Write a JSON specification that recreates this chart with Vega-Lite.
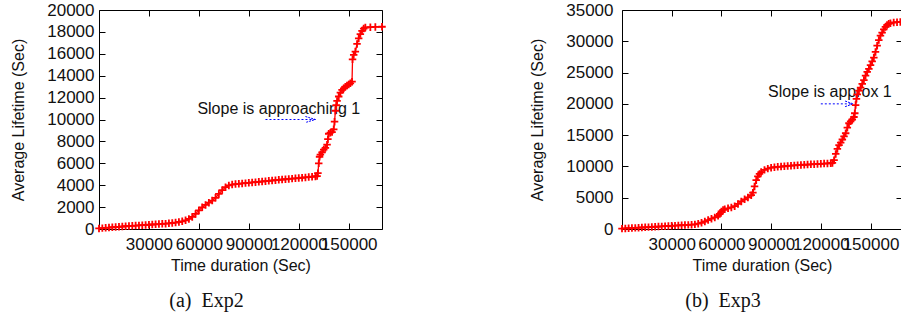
{
"$schema":"https://vega.github.io/schema/vega-lite/v6.json",
"padding":{"left":10,"top":0,"right":0,"bottom":0},
"background":"white",
"spacing":139,
"config":{"font":"Liberation Sans","view":{"stroke":"#000","strokeWidth":1},
"axis":{"labelFont":"Liberation Sans","titleFont":"Liberation Sans","labelFontSize":17,"titleFontSize":16,"titleFontWeight":"normal","labelColor":"#111","titleColor":"#111","domain":false,"grid":false,"tickColor":"#000","tickSize":-6,"labelOverlap":false,"labelFlush":false}},
"datasets":{
"exp2":[{"t":0,"v":50},{"t":2000,"v":80},{"t":4000,"v":110},{"t":6000,"v":130},{"t":8000,"v":160},{"t":10000,"v":180},{"t":12000,"v":200},{"t":14000,"v":230},{"t":16000,"v":250},{"t":18000,"v":270},{"t":20000,"v":290},{"t":22000,"v":310},{"t":24000,"v":330},{"t":26000,"v":350},{"t":28000,"v":370},{"t":30000,"v":390},{"t":32000,"v":410},{"t":34000,"v":430},{"t":36000,"v":450},{"t":38000,"v":470},{"t":40000,"v":490},{"t":42000,"v":520},{"t":44000,"v":550},{"t":46000,"v":590},{"t":48000,"v":640},{"t":50000,"v":700},{"t":52000,"v":790},{"t":54000,"v":920},{"t":56000,"v":1100},{"t":58000,"v":1380},{"t":60000,"v":1700},{"t":62000,"v":1980},{"t":64000,"v":2200},{"t":66000,"v":2400},{"t":68000,"v":2600},{"t":70000,"v":2850},{"t":72000,"v":3200},{"t":74000,"v":3550},{"t":76000,"v":3820},{"t":78000,"v":3980},{"t":80000,"v":4060},{"t":82000,"v":4100},{"t":84000,"v":4130},{"t":86000,"v":4160},{"t":88000,"v":4190},{"t":90000,"v":4220},{"t":92000,"v":4250},{"t":94000,"v":4280},{"t":96000,"v":4310},{"t":98000,"v":4340},{"t":100000,"v":4370},{"t":102000,"v":4400},{"t":104000,"v":4430},{"t":106000,"v":4460},{"t":108000,"v":4490},{"t":110000,"v":4520},{"t":112000,"v":4545},{"t":114000,"v":4570},{"t":116000,"v":4600},{"t":118000,"v":4625},{"t":120000,"v":4650},{"t":122000,"v":4680},{"t":124000,"v":4710},{"t":126000,"v":4740},{"t":128000,"v":4770},{"t":130000,"v":4800},{"t":131000,"v":4830},{"t":131500,"v":5100},{"t":132000,"v":6000},{"t":132500,"v":6600},{"t":133000,"v":6800},{"t":134000,"v":7000},{"t":135000,"v":7250},{"t":136000,"v":7400},{"t":137000,"v":7700},{"t":137500,"v":8200},{"t":138000,"v":8700},{"t":139000,"v":8800},{"t":140000,"v":8850},{"t":141000,"v":9100},{"t":141500,"v":9800},{"t":142000,"v":10800},{"t":142500,"v":11300},{"t":143000,"v":11700},{"t":144000,"v":12100},{"t":145000,"v":12450},{"t":146000,"v":12700},{"t":147000,"v":12850},{"t":148000,"v":13000},{"t":149000,"v":13100},{"t":150000,"v":13200},{"t":151000,"v":13300},{"t":152000,"v":13450},{"t":152300,"v":15500},{"t":153000,"v":15900},{"t":154000,"v":16200},{"t":155000,"v":16900},{"t":156000,"v":17400},{"t":157000,"v":17800},{"t":158000,"v":18100},{"t":159000,"v":18300},{"t":160000,"v":18400},{"t":163000,"v":18430},{"t":166000,"v":18450},{"t":170000,"v":18470}],
"exp3":[{"t":0,"v":60},{"t":2000,"v":90},{"t":4000,"v":120},{"t":6000,"v":150},{"t":8000,"v":180},{"t":10000,"v":210},{"t":12000,"v":240},{"t":14000,"v":270},{"t":16000,"v":300},{"t":18000,"v":330},{"t":20000,"v":360},{"t":22000,"v":390},{"t":24000,"v":420},{"t":26000,"v":450},{"t":28000,"v":480},{"t":30000,"v":510},{"t":32000,"v":540},{"t":34000,"v":570},{"t":36000,"v":600},{"t":38000,"v":630},{"t":40000,"v":660},{"t":42000,"v":690},{"t":44000,"v":740},{"t":46000,"v":850},{"t":48000,"v":1000},{"t":50000,"v":1200},{"t":52000,"v":1420},{"t":54000,"v":1650},{"t":56000,"v":1850},{"t":58000,"v":2100},{"t":59000,"v":2400},{"t":60000,"v":2800},{"t":61000,"v":3050},{"t":62000,"v":3150},{"t":64000,"v":3300},{"t":66000,"v":3450},{"t":68000,"v":3650},{"t":70000,"v":4000},{"t":72000,"v":4400},{"t":74000,"v":4750},{"t":76000,"v":5050},{"t":78000,"v":5400},{"t":79000,"v":5800},{"t":80000,"v":6800},{"t":81000,"v":7800},{"t":82000,"v":8400},{"t":83000,"v":8800},{"t":84000,"v":9100},{"t":86000,"v":9450},{"t":88000,"v":9650},{"t":90000,"v":9800},{"t":92000,"v":9870},{"t":94000,"v":9930},{"t":96000,"v":9980},{"t":98000,"v":10030},{"t":100000,"v":10080},{"t":102000,"v":10120},{"t":104000,"v":10160},{"t":106000,"v":10200},{"t":108000,"v":10240},{"t":110000,"v":10270},{"t":112000,"v":10300},{"t":114000,"v":10330},{"t":116000,"v":10360},{"t":118000,"v":10390},{"t":120000,"v":10420},{"t":122000,"v":10450},{"t":124000,"v":10480},{"t":126000,"v":10510},{"t":127000,"v":10560},{"t":128000,"v":11000},{"t":129000,"v":12000},{"t":130000,"v":12800},{"t":131000,"v":13400},{"t":132000,"v":13800},{"t":133000,"v":14300},{"t":134000,"v":14800},{"t":135000,"v":15300},{"t":136000,"v":16200},{"t":137000,"v":16900},{"t":138000,"v":17200},{"t":139000,"v":17500},{"t":140000,"v":17900},{"t":140500,"v":18500},{"t":141000,"v":19800},{"t":141500,"v":20800},{"t":142000,"v":21500},{"t":143000,"v":22100},{"t":144000,"v":22600},{"t":145000,"v":23200},{"t":146000,"v":23800},{"t":147000,"v":24500},{"t":148000,"v":25100},{"t":149000,"v":25600},{"t":150000,"v":26200},{"t":151000,"v":26800},{"t":152000,"v":27400},{"t":153000,"v":28300},{"t":154000,"v":29300},{"t":155000,"v":30200},{"t":156000,"v":30900},{"t":157000,"v":31400},{"t":158000,"v":31900},{"t":159000,"v":32300},{"t":160000,"v":32600},{"t":161000,"v":32800},{"t":162000,"v":32900},{"t":164000,"v":33000},{"t":166000,"v":33050},{"t":168000,"v":33100}]
},
"hconcat":[
{"width":283,"height":219,
"title":{"text":"(a)\u00a0 Exp2","orient":"bottom","font":"Liberation Serif","fontSize":20,"fontWeight":"normal","color":"#111","anchor":"middle","frame":"group","dx":-34,"offset":18},
"resolve":{"axis":{"x":"independent","y":"independent"}},
"layer":[
{"data":{"values":[{"t":108000,"v":10500,"label":"Slope is approaching 1"}]},"mark":{"type":"text","font":"Liberation Sans","fontSize":16,"color":"#111","align":"center","baseline":"alphabetic"},
"encoding":{"x":{"field":"t","type":"quantitative","axis":null},"y":{"field":"v","type":"quantitative","axis":null},"text":{"field":"label"}}},
{"data":{"values":[{"t":100000,"t2":130000,"v":10000}]},"mark":{"type":"rule","color":"#0000ff","strokeWidth":1,"strokeDash":[2,2]},
"encoding":{"x":{"field":"t","type":"quantitative","axis":null},"x2":{"field":"t2"},"y":{"field":"v","type":"quantitative","axis":null}}},
{"data":{"values":[{"t":130000,"v":10000}]},"mark":{"type":"point","shape":"M-1,-0.3L0,0L-1,0.3","filled":false,"stroke":"#0000ff","strokeWidth":1,"strokeDash":[2,1],"size":400,"opacity":1},
"encoding":{"x":{"field":"t","type":"quantitative","axis":null},"y":{"field":"v","type":"quantitative","axis":null}}},
{"data":{"name":"exp2"},"mark":{"type":"line","color":"#ff0000","strokeWidth":1.3},
"encoding":{"x":{"field":"t","type":"quantitative","scale":{"domain":[0,170000],"nice":false},"axis":{"orient":"bottom","values":[30000,60000,90000,120000,150000],"format":"d","title":"Time duration (Sec)","labelPadding":13,"titlePadding":5}},
"y":{"field":"v","type":"quantitative","scale":{"domain":[0,20000],"nice":false},"axis":{"orient":"left","values":[0,2000,4000,6000,8000,10000,12000,14000,16000,18000,20000],"format":"d","title":"Average Lifetime (Sec)","labelPadding":11,"titlePadding":20}}}},
{"data":{"name":"exp2"},"mark":{"type":"point","shape":"M-1,0L1,0M0,-1L0,1","filled":false,"stroke":"#ff0000","strokeWidth":1.8,"size":56,"opacity":1},
"encoding":{"x":{"field":"t","type":"quantitative","axis":{"orient":"top","values":[30000,60000,90000,120000,150000],"labels":false,"title":null}},
"y":{"field":"v","type":"quantitative","axis":{"orient":"right","values":[0,2000,4000,6000,8000,10000,12000,14000,16000,18000,20000],"labels":false,"title":null}}}}
]},
{"width":280,"height":219,
"title":{"text":"(b)\u00a0 Exp3","orient":"bottom","font":"Liberation Serif","fontSize":20,"fontWeight":"normal","color":"#111","anchor":"middle","frame":"group","dx":-39,"offset":18},
"resolve":{"axis":{"x":"independent","y":"independent"}},
"layer":[
{"data":{"values":[{"t":125500,"v":21100,"label":"Slope is approx 1"}]},"mark":{"type":"text","font":"Liberation Sans","fontSize":16,"color":"#111","align":"center","baseline":"alphabetic"},
"encoding":{"x":{"field":"t","type":"quantitative","axis":null},"y":{"field":"v","type":"quantitative","axis":null},"text":{"field":"label"}}},
{"data":{"values":[{"t":120000,"t2":139500,"v":20000}]},"mark":{"type":"rule","color":"#0000ff","strokeWidth":1,"strokeDash":[2,2]},
"encoding":{"x":{"field":"t","type":"quantitative","axis":null},"x2":{"field":"t2"},"y":{"field":"v","type":"quantitative","axis":null}}},
{"data":{"values":[{"t":139500,"v":20000}]},"mark":{"type":"point","shape":"M-1,-0.35L0,0L-1,0.35","filled":false,"stroke":"#0000ff","strokeWidth":1,"strokeDash":[2,1],"size":256,"opacity":1},
"encoding":{"x":{"field":"t","type":"quantitative","axis":null},"y":{"field":"v","type":"quantitative","axis":null}}},
{"data":{"name":"exp3"},"mark":{"type":"line","color":"#ff0000","strokeWidth":1.3},
"encoding":{"x":{"field":"t","type":"quantitative","scale":{"domain":[0,169000],"nice":false},"axis":{"orient":"bottom","values":[30000,60000,90000,120000,150000],"format":"d","title":"Time duration (Sec)","labelPadding":13,"titlePadding":5}},
"y":{"field":"v","type":"quantitative","scale":{"domain":[0,35000],"nice":false},"axis":{"orient":"left","values":[0,5000,10000,15000,20000,25000,30000,35000],"format":"d","title":"Average Lifetime (Sec)","labelPadding":15,"titlePadding":20}}}},
{"data":{"name":"exp3"},"mark":{"type":"point","shape":"M-1,0L1,0M0,-1L0,1","filled":false,"stroke":"#ff0000","strokeWidth":1.8,"size":56,"opacity":1},
"encoding":{"x":{"field":"t","type":"quantitative","axis":{"orient":"top","values":[30000,60000,90000,120000,150000],"labels":false,"title":null}},
"y":{"field":"v","type":"quantitative","axis":{"orient":"right","values":[0,5000,10000,15000,20000,25000,30000,35000],"labels":false,"title":null}}}}
]}
]
}
